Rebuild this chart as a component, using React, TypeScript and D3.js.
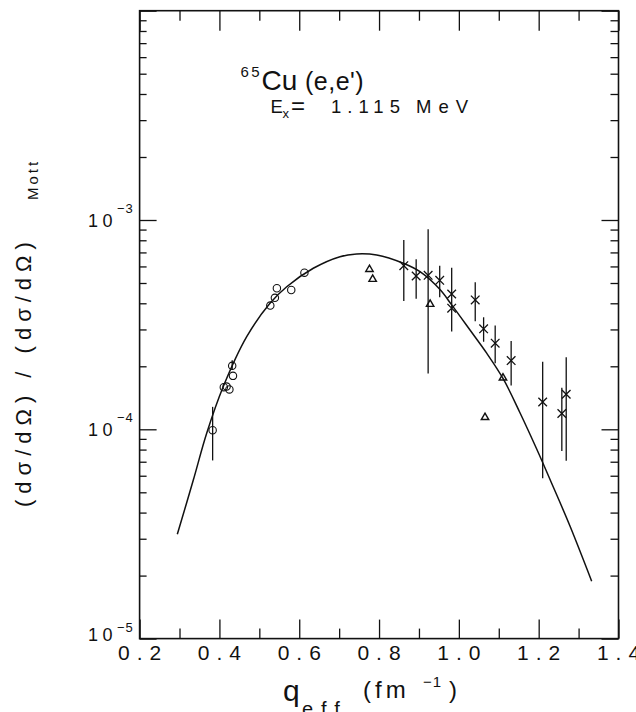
import React, { useEffect, useRef } from "react";
import * as d3 from "d3";

// fitted curve
const curveQ = [0.2945, 0.3346, 0.3681, 0.4097, 0.4684, 0.5267, 0.5686, 0.6352, 0.7021, 0.744, 0.7941, 0.8607, 0.9026, 0.9527, 0.982, 1.0279, 1.0697, 1.1113, 1.1531, 1.195, 1.2366, 1.2784, 1.3328];
const curveV = [3.15e-5, 5.72e-5, 9.57e-5, 1.6e-4, 2.77e-4, 4.0e-4, 4.8e-4, 5.88e-4, 6.68e-4, 6.88e-4, 6.8e-4, 6.21e-4, 5.66e-4, 4.65e-4, 3.93e-4, 2.98e-4, 2.31e-4, 1.74e-4, 1.2e-4, 8.05e-5, 5.3e-5, 3.45e-5, 1.88e-5];

// open circles
const circleQ = [0.383, 0.411, 0.418, 0.425, 0.434, 0.432, 0.5275, 0.539, 0.544, 0.58, 0.613];
const circleV = [9.9e-5, 1.59e-4, 1.6e-4, 1.55e-4, 1.8e-4, 2.01e-4, 3.9e-4, 4.25e-4, 4.72e-4, 4.63e-4, 5.6e-4];
const circleLo = [7.1e-5, 1.59e-4, 1.6e-4, 1.55e-4, 1.8e-4, 1.92e-4, 3.9e-4, 4.25e-4, 4.72e-4, 4.63e-4, 5.6e-4];
const circleHi = [1.28e-4, 1.59e-4, 1.6e-4, 1.55e-4, 1.8e-4, 2.14e-4, 3.9e-4, 4.25e-4, 4.72e-4, 4.63e-4, 5.6e-4];

// triangles
const triQ = [0.776, 0.784, 0.928, 1.0655, 1.1105];
const triV = [5.81e-4, 5.21e-4, 3.96e-4, 1.14e-4, 1.76e-4];

// crosses with error bars
const crossQ = [0.862, 0.893, 0.923, 0.952, 0.982, 0.982, 1.041, 1.062, 1.091, 1.131, 1.21, 1.258, 1.269];
const crossV = [6.05e-4, 5.4e-4, 5.44e-4, 5.15e-4, 4.43e-4, 3.79e-4, 4.15e-4, 3.02e-4, 2.58e-4, 2.13e-4, 1.35e-4, 1.19e-4, 1.47e-4];
const crossLo = [4.1e-4, 4.21e-4, 1.85e-4, 4.27e-4, 2.93e-4, 3.79e-4, 3.28e-4, 2.62e-4, 2.07e-4, 1.62e-4, 5.83e-5, 7.87e-5, 7.08e-5];
const crossHi = [8.02e-4, 6.49e-4, 9.03e-4, 6.05e-4, 5.92e-4, 3.79e-4, 5.04e-4, 3.43e-4, 3.13e-4, 2.64e-4, 2.1e-4, 1.58e-4, 2.21e-4];

const xTicks = [0.2, 0.4, 0.6, 0.8, 1.0, 1.2, 1.4];
const xMinorTicks = [0.3, 0.5, 0.7, 0.9, 1.1, 1.3];
const yDecades = [1e-5, 1e-4, 1e-3, 1e-2];
const yLabelDecades = [1e-3, 1e-4, 1e-5];
const yLabelExp = ["−3", "−4", "−5"];

const width = 636;
const height = 712;
const plot = { left: 139.6, right: 618.5, top: 10.7, bottom: 638.6 };
const FONT = "Liberation Sans, Arial, sans-serif";

export default function App() {
	const ref = useRef<SVGSVGElement | null>(null);

	useEffect(() => {
		document.body.style.margin = "0";
		const svg = d3.select(ref.current);
		svg.selectAll("*").remove();

		const x = d3.scaleLinear().domain([0.2, 1.4]).range([plot.left, plot.right]);
		const y = d3.scaleLog().domain([1e-5, 1e-2]).range([plot.bottom, plot.top]);

		const yMinor: number[] = [];
		[1e-5, 1e-4, 1e-3].forEach((d) => {
			for (let m = 2; m <= 9; m++) yMinor.push(d * m);
		});

		const clean = (g: any) => {
			g.select(".domain").remove();
			g.selectAll("text").remove();
			g.selectAll("line").attr("stroke", "#111").attr("stroke-width", 1.3);
		};
		const noLabel = () => "";

		// ticks (all pointing inward)
		svg.append("g").attr("transform", `translate(0,${plot.bottom})`)
			.call(d3.axisBottom(x).tickValues(xTicks).tickSize(-19).tickFormat(noLabel)).call(clean);
		svg.append("g").attr("transform", `translate(0,${plot.bottom})`)
			.call(d3.axisBottom(x).tickValues(xMinorTicks).tickSize(-10).tickFormat(noLabel)).call(clean);
		svg.append("g").attr("transform", `translate(0,${plot.top})`)
			.call(d3.axisTop(x).tickValues(xTicks).tickSize(-20).tickFormat(noLabel)).call(clean);
		svg.append("g").attr("transform", `translate(0,${plot.top})`)
			.call(d3.axisTop(x).tickValues(xMinorTicks).tickSize(-10).tickFormat(noLabel)).call(clean);
		svg.append("g").attr("transform", `translate(${plot.left},0)`)
			.call(d3.axisLeft(y).tickValues(yDecades).tickSize(-17).tickFormat(noLabel)).call(clean);
		svg.append("g").attr("transform", `translate(${plot.left},0)`)
			.call(d3.axisLeft(y).tickValues(yMinor).tickSize(-7).tickFormat(noLabel)).call(clean);
		svg.append("g").attr("transform", `translate(${plot.right},0)`)
			.call(d3.axisRight(y).tickValues(yDecades).tickSize(-17).tickFormat(noLabel)).call(clean);
		svg.append("g").attr("transform", `translate(${plot.right},0)`)
			.call(d3.axisRight(y).tickValues(yMinor).tickSize(-8).tickFormat(noLabel)).call(clean);

		// frame
		svg.append("rect")
			.attr("x", plot.left).attr("y", plot.top)
			.attr("width", plot.right - plot.left).attr("height", plot.bottom - plot.top)
			.attr("fill", "none").attr("stroke", "#111").attr("stroke-width", 1.6);

		// x tick labels
		svg.append("g").selectAll("text").data(xTicks).join("text")
			.attr("x", (d) => x(d) + 3.5)
			.attr("y", 660)
			.attr("text-anchor", "middle")
			.attr("font-family", FONT).attr("font-size", 21).attr("letter-spacing", 7)
			.attr("fill", "#111")
			.text((d) => d3.format(".1f")(d));

		// y tick labels
		const yl = svg.append("g").selectAll("g").data(yLabelDecades).join("g");
		yl.append("text")
			.attr("x", 88).attr("y", (d) => y(d) + (d === 1e-5 ? 2.5 : 7))
			.attr("font-family", FONT).attr("font-size", 18).attr("letter-spacing", 4.5)
			.attr("fill", "#111").text("10");
		yl.append("text")
			.attr("x", 117).attr("y", (d) => y(d) - 7)
			.attr("font-family", FONT).attr("font-size", 13).attr("letter-spacing", 1)
			.attr("fill", "#111").text((d, i) => yLabelExp[i]);

		// curve
		const pts = curveQ.map((q, i) => [q, curveV[i]] as [number, number]);
		svg.append("path")
			.datum(pts)
			.attr("fill", "none").attr("stroke", "#111").attr("stroke-width", 1.5)
			.attr("d", d3.line<[number, number]>().x((d) => x(d[0])).y((d) => y(d[1])).curve(d3.curveCatmullRom.alpha(0.5)));

		// error bars
		const bars = svg.append("g").attr("stroke", "#111").attr("stroke-width", 1.3);
		bars.selectAll("line.c").data(circleQ).join("line").attr("class", "c")
			.attr("x1", (d) => x(d)).attr("x2", (d) => x(d))
			.attr("y1", (d, i) => y(circleLo[i])).attr("y2", (d, i) => y(circleHi[i]));
		bars.selectAll("line.x").data(crossQ).join("line").attr("class", "x")
			.attr("x1", (d) => x(d)).attr("x2", (d) => x(d))
			.attr("y1", (d, i) => y(crossLo[i])).attr("y2", (d, i) => y(crossHi[i]));

		// circles
		svg.append("g").selectAll("circle").data(circleQ).join("circle")
			.attr("cx", (d) => x(d)).attr("cy", (d, i) => y(circleV[i]))
			.attr("r", 3.7).attr("fill", "none").attr("stroke", "#111").attr("stroke-width", 1.1);

		// triangles
		svg.append("g").selectAll("path").data(triQ).join("path")
			.attr("transform", (d, i) => `translate(${x(d)},${y(triV[i])})`)
			.attr("d", d3.symbol(d3.symbolTriangle, 24)())
			.attr("fill", "none").attr("stroke", "#111").attr("stroke-width", 1.4);

		// crosses
		const cr = svg.append("g").attr("stroke", "#111").attr("stroke-width", 1.3);
		const s = 4.3;
		cr.selectAll("path").data(crossQ).join("path")
			.attr("d", (d, i) => {
				const cx = x(d), cy = y(crossV[i]);
				return `M${cx - s},${cy - s}L${cx + s},${cy + s}M${cx - s},${cy + s}L${cx + s},${cy - s}`;
			});

		// annotation
		const t = (tx: number, ty: number, size: number, ls: number, str: string) =>
			svg.append("text").attr("x", tx).attr("y", ty)
				.attr("font-family", FONT).attr("font-size", size).attr("letter-spacing", ls)
				.attr("fill", "#111").text(str);
		t(240.5, 77, 15, 2.5, "65");
		t(261.5, 90, 28, 0, "Cu");
		t(305, 90, 25, 0.5, "(e,e')");
		t(270.5, 113, 18.5, 0, "E");
		t(282.5, 118, 13, 0, "x");
		t(291, 114, 24, 0, "=");
		t(331, 113, 18.5, 6, "1.115");
		t(416, 113, 18.5, 7, "MeV");

		// x title
		t(283, 701, 30, 0, "q");
		t(302, 716, 20, 8, "eff");
		t(363, 698, 24, 4, "(fm");
		t(423, 687, 15, 1, "−1");
		t(449, 698, 24, 0, ")");

		// y title
		svg.append("text")
			.attr("transform", "translate(30.5,507) rotate(-90)")
			.attr("font-family", FONT).attr("font-size", 22).attr("letter-spacing", 6)
			.attr("fill", "#111").text("(dσ/dΩ) / (dσ/dΩ)");
		svg.append("text")
			.attr("transform", "translate(38,200) rotate(-90)")
			.attr("font-family", FONT).attr("font-size", 15).attr("letter-spacing", 3)
			.attr("fill", "#111").text("Mott");
	}, []);

	return <svg ref={ref} width={width} height={height} style={{ display: "block", background: "#fff" }} />;
}
